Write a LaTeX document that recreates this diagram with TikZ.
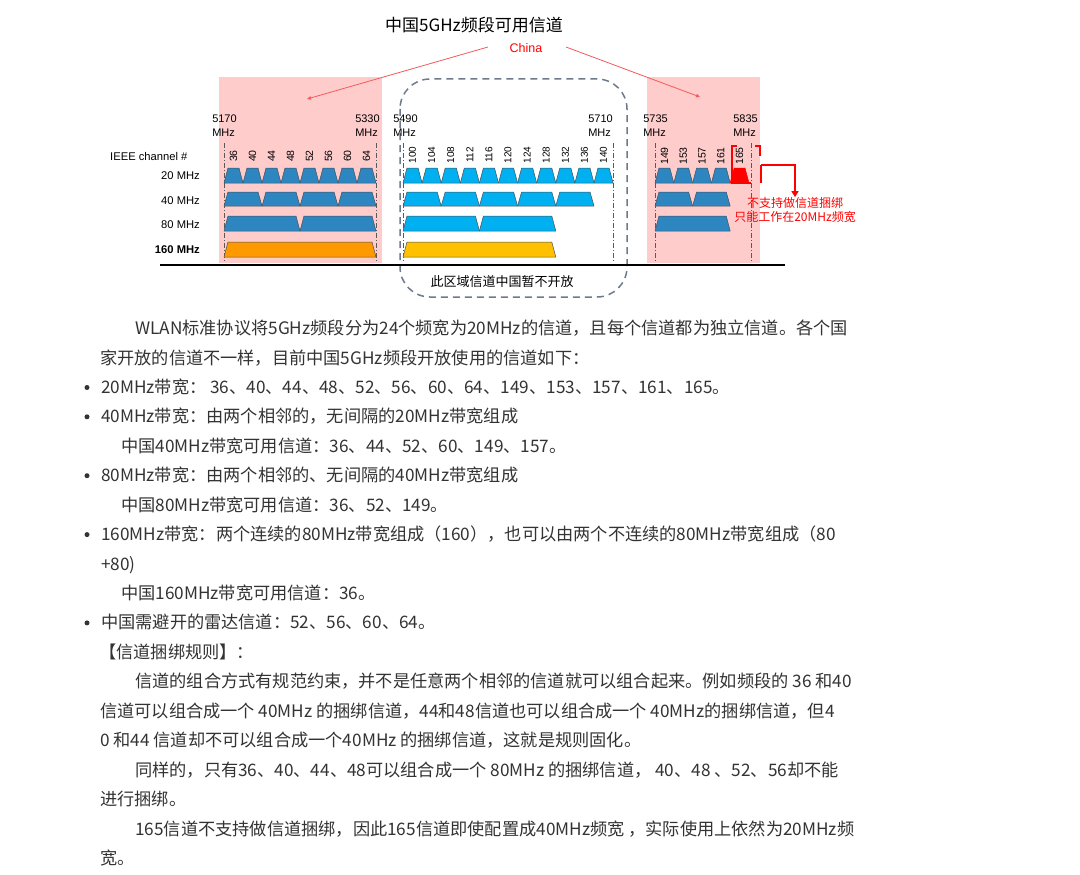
\documentclass[tikz,border=0pt]{standalone}
\usepackage{fontspec}
\setmainfont{Liberation Sans}
\newfontfamily\cjk{Noto Sans CJK SC}
\usetikzlibrary{arrows.meta}
\definecolor{pinkbg}{RGB}{255,204,204}
\definecolor{blueA}{RGB}{46,134,193}
\definecolor{blueB}{RGB}{0,176,240}
\definecolor{orangeA}{RGB}{255,153,0}
\definecolor{yellowA}{RGB}{255,192,0}
\definecolor{redA}{RGB}{255,0,0}
\definecolor{redline}{RGB}{245,90,90}
\definecolor{dashgray}{RGB}{110,122,140}
\definecolor{bodytext}{RGB}{51,51,51}
\definecolor{trapedge}{RGB}{70,80,90}
\newcommand\trapz[5]{\draw[trapline,fill=#5] ({#1},{#4}) -- ({#1+4},{#3}) -- ({#2-4},{#3}) -- ({#2},{#4}) -- cycle;}
\tikzset{
  trapline/.style={draw=trapedge,line width=0.5pt,line join=round},
  chlab/.style={rotate=90,font=\fontsize{10.5}{11}\selectfont,inner sep=0pt},
  freqlab/.style={align=left,font=\fontsize{11}{14}\selectfont,inner sep=0pt},
  rowlab/.style={anchor=east,font=\fontsize{11.2}{13}\selectfont,inner sep=0pt},
  ddot/.style={draw=black!65,line width=0.6pt,dash pattern=on 5pt off 2pt on 1pt off 2pt},
  redmark/.style={draw=redA,line width=2.2pt},
  chinaline/.style={draw=redline,line width=0.8pt,-{Triangle[length=4pt,width=3.5pt]}},
  body/.style={anchor=base west,font=\cjk\fontsize{17.2}{20}\selectfont,text=bodytext,inner sep=0pt},
  bullet/.style={circle,fill=bodytext,inner sep=0pt,minimum size=5pt}
}
\begin{document}
\begin{tikzpicture}[x=1pt,y=-1pt]
\useasboundingbox[fill=white] (0,0) rectangle (1080,875);
% pink regions
\fill[pinkbg] (219,77) rectangle (382,263);
\fill[pinkbg] (647,77) rectangle (760,263);
% dashed rounded box
\draw[dashgray,line width=1.5pt,dash pattern=on 7pt off 5pt,rounded corners=30pt] (400,79) rectangle (627,297);
% title
\node[font=\cjk\fontsize{17}{20}\selectfont,inner sep=0pt] (title) at (474,25) {中国5GHz频段可用信道};
\node[text=redA,font=\fontsize{12.5}{14}\selectfont,inner sep=1pt] (china) at (526,48) {China};
\coordinate (cls) at (488,47);
\coordinate (crs) at (566,47);
\coordinate (clt) at (307,99);
\coordinate (crt) at (700,97);
\draw[chinaline] (cls) -- (clt);
\draw[chinaline] (crs) -- (crt);
% frequency labels
\node[freqlab] (f5170) at (224.5,126) {5170\\MHz};
\node[freqlab] (f5330) at (367.5,126) {5330\\MHz};
\node[freqlab] (f5490) at (405.5,126) {5490\\MHz};
\node[freqlab] (f5710) at (600.5,126) {5710\\MHz};
\node[freqlab] (f5735) at (655.5,126) {5735\\MHz};
\node[freqlab] (f5835) at (745.5,126) {5835\\MHz};
% row labels
\node[anchor=west,font=\fontsize{11.2}{13}\selectfont,inner sep=0pt] (ieee) at (110,156) {IEEE channel \#};
\node[rowlab] (r20) at (200,176) {20 MHz};
\node[rowlab] (r40) at (200,201) {40 MHz};
\node[rowlab] (r80) at (200,225) {80 MHz};
\node[rowlab,font=\bfseries\fontsize{11.2}{13}\selectfont] (r160) at (200,250) {160 MHz};
% dash-dot boundaries
\draw[ddot] (224,143) -- (224,262);
\draw[ddot] (376,143) -- (376,262);
\draw[ddot] (403,143) -- (403,262);
\draw[ddot] (613,143) -- (613,262);
\draw[ddot] (655,143) -- (655,262);
\draw[ddot] (751,143) -- (751,262);
% left group
\foreach \i in {0,...,7} {\trapz{224+19*\i}{243+19*\i}{168}{183}{blueA}}
\foreach \i in {0,...,3} {\trapz{224+38*\i}{262+38*\i}{192}{206}{blueA}}
\foreach \i in {0,1} {\trapz{224+76*\i}{300+76*\i}{216}{231}{blueA}}
\trapz{224}{376}{242}{257}{orangeA}
\foreach \n [count=\k from 0] in {36,40,...,64} \node[chlab] (cl\n) at (233.5+19*\k,156) {\n};
% middle group
\foreach \i in {0,...,10} {\trapz{403+19.1*\i}{422.1+19.1*\i}{168}{183}{blueB}}
\foreach \i in {0,...,4} {\trapz{403+38.2*\i}{441.2+38.2*\i}{192}{206}{blueB}}
\foreach \i in {0,1} {\trapz{403+76.4*\i}{479.4+76.4*\i}{216}{231}{blueB}}
\trapz{403}{555.8}{242}{257}{yellowA}
\foreach \n [count=\k from 0] in {100,104,...,140} \node[chlab,font=\fontsize{10}{11}\selectfont] (cl\n) at (412.55+19.1*\k,155) {\n};
% right group
\foreach \i in {0,...,3} {\trapz{655+18.8*\i}{673.8+18.8*\i}{168}{183}{blueA}}
\draw[draw=redA,fill=redA,line width=0.5pt] (730.2,183) -- (734.2,168) -- (745,168) -- (749,183) -- cycle;
\foreach \i in {0,1} {\trapz{655+37.6*\i}{692.6+37.6*\i}{192}{206}{blueA}}
\trapz{655}{730.2}{216}{231}{blueA}
\foreach \n [count=\k from 0] in {149,153,...,165} \node[chlab] (cl\n) at (664.4+18.8*\k,156) {\n};
% red brackets and note
\draw[redmark] (737,146) -- (732,146) -- (732,183) -- (751,183);
\draw[redmark] (755,146) -- (760,146) -- (760,156);
\node[text=redA,align=center,font=\cjk\fontsize{12}{14}\selectfont,inner sep=0pt] (note165) at (795,210) {不支持做信道捆绑\\只能工作在20MHz频宽};
\coordinate (nstart) at (761,183);
\draw[redA,line width=2pt] (nstart) -- (761,165);
\draw[redA,line width=1.2pt,-{Triangle[length=6pt,width=7pt]}] (761,165) -- (795,165) -- (note165.north);
% baseline
\draw[black,line width=1.3pt] (160,265) -- (785,265);
\node[font=\cjk\fontsize{13}{15}\selectfont,inner sep=0pt] (closed) at (502,282) {此区域信道中国暂不开放};
% body text
\node[body] (t1) at (135,334.5) {WLAN标准协议将5GHz频段分为24个频宽为20MHz的信道，且每个信道都为独立信道。各个国};
\node[body] (t2) at (100,364) {家开放的信道不一样，目前中国5GHz频段开放使用的信道如下：};
\node[body] (t3) at (101,393.4) {20MHz带宽： 36、40、44、48、52、56、60、64、149、153、157、161、165。};
\node[body] (t4) at (101,422.8) {40MHz带宽：由两个相邻的，无间隔的20MHz带宽组成};
\node[body] (t5) at (121,452.3) {中国40MHz带宽可用信道：36、44、52、60、149、157。};
\node[body] (t6) at (101,481.7) {80MHz带宽：由两个相邻的、无间隔的40MHz带宽组成};
\node[body] (t7) at (121,511.2) {中国80MHz带宽可用信道：36、52、149。};
\node[body] (t8) at (101,540.6) {160MHz带宽：两个连续的80MHz带宽组成（160），也可以由两个不连续的80MHz带宽组成（80};
\node[body] (t9) at (101,570) {+80)};
\node[body] (t10) at (121,599.5) {中国160MHz带宽可用信道：36。};
\node[body] (t11) at (101,628.9) {中国需避开的雷达信道：52、56、60、64。};
\node[body] (t12) at (99,658.4) {【信道捆绑规则】：};
\node[body] (t13) at (135,687.8) {信道的组合方式有规范约束，并不是任意两个相邻的信道就可以组合起来。例如频段的 36 和40};
\node[body] (t14) at (100,717.2) {信道可以组合成一个 40MHz 的捆绑信道，44和48信道也可以组合成一个 40MHz的捆绑信道，但4};
\node[body] (t15) at (100,746.7) {0 和44 信道却不可以组合成一个40MHz 的捆绑信道，这就是规则固化。};
\node[body] (t16) at (135,776.1) {同样的，只有36、40、44、48可以组合成一个 80MHz 的捆绑信道， 40、48 、52、56却不能};
\node[body] (t17) at (100,805.6) {进行捆绑。};
\node[body] (t18) at (135,835) {165信道不支持做信道捆绑，因此165信道即使配置成40MHz频宽 ，实际使用上依然为20MHz频};
\node[body] (t19) at (100,864.4) {宽。};
% bullets
\node[bullet] (b3) at (87,387.5) {};
\node[bullet] (b4) at (87,416.8) {};
\node[bullet] (b6) at (87,475.7) {};
\node[bullet] (b8) at (87,534.6) {};
\node[bullet] (b11) at (87,622.9) {};
\end{tikzpicture}
\end{document}
